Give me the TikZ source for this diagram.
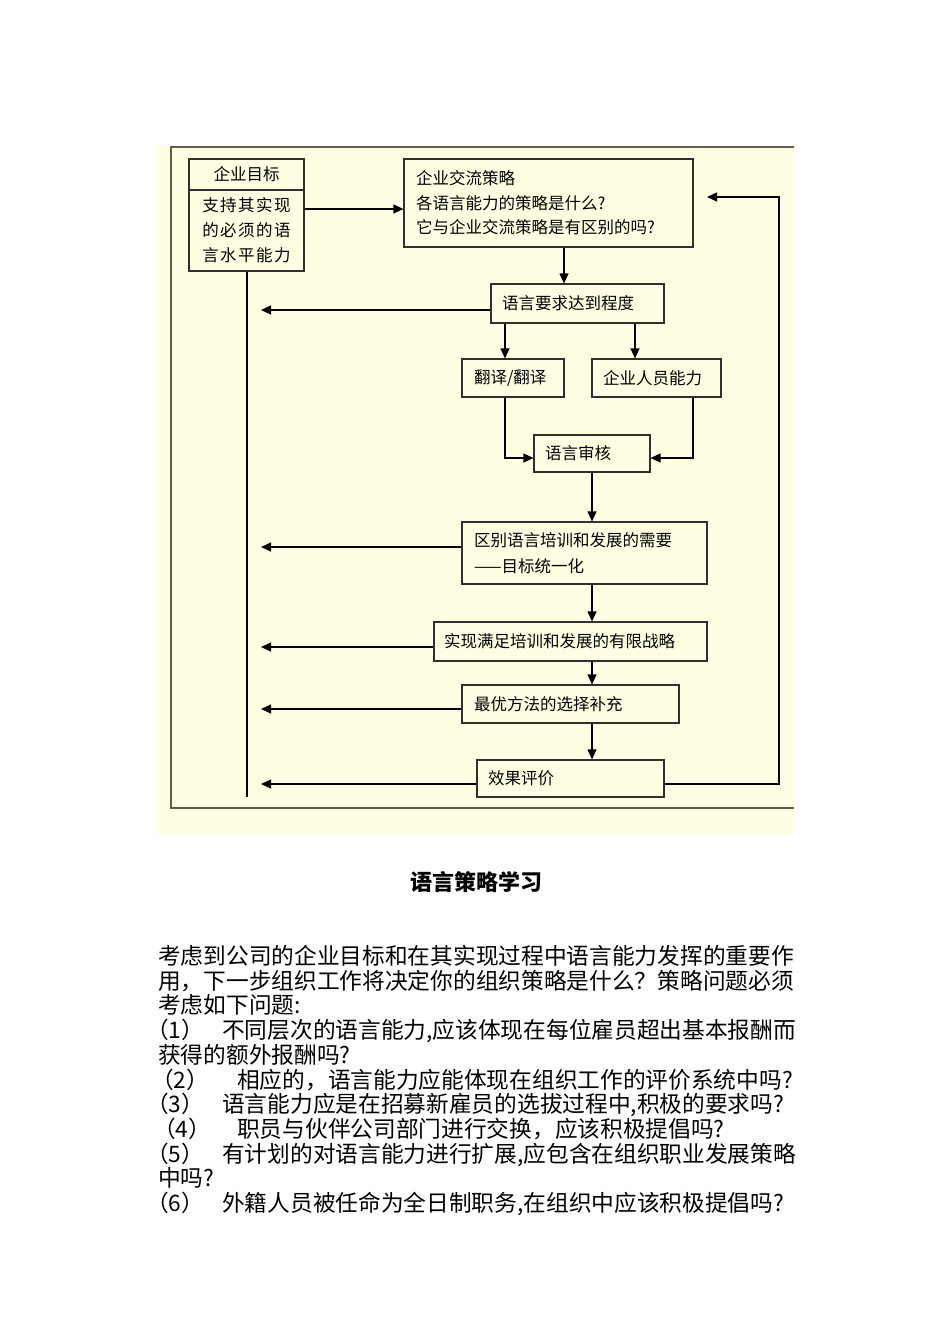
\documentclass[tikz,border=0pt]{standalone}
\usepackage{fontspec}
\setmainfont{Noto Sans CJK SC}
\usetikzlibrary{arrows.meta}
\definecolor{bgy}{HTML}{FFFFE3}
\definecolor{framec}{HTML}{5F5F4C}
\definecolor{boxc}{HTML}{303030}
\tikzset{
  box/.style={draw=boxc, line width=1.2pt, inner ysep=0pt, align=left,
    font=\fontsize{16.5}{24.5}\selectfont},
  arr/.style={line width=1.2pt, draw=black, -{Triangle[length=10pt,width=9pt]}},
  ln/.style={line width=1.3pt, draw=black},
  body/.style={anchor=base west, inner sep=0pt, font=\fontsize{22.7}{25}\selectfont},
  lab/.style={anchor=base west, inner sep=0pt, font=\fontsize{22.7}{25}\selectfont}
}
\begin{document}
\begin{tikzpicture}[x=1pt,y=-1pt]
\useasboundingbox[fill=white] (0,0) rectangle (950,1344);
% background and frame
\fill[bgy] (156,146) rectangle (794,834);
\draw[framec, line width=1.5pt] (794,147) -- (171,147) -- (171,808) -- (794,808);

% goal box
\node[box, minimum width=115pt, minimum height=31pt, align=center] (goalT) at (246.5,174.5) {企业目标};
\node[box, minimum width=115pt, minimum height=81pt, align=center,
  font=\fontsize{16.5}{25}\selectfont] (goalB) at (246.5,230.5)
  {支\hspace{1.5pt}持\hspace{1.5pt}其\hspace{1.5pt}实\hspace{1.5pt}现\\的\hspace{1.5pt}必\hspace{1.5pt}须\hspace{1.5pt}的\hspace{1.5pt}语\\言\hspace{1.5pt}水\hspace{1.5pt}平\hspace{1.5pt}能\hspace{1.5pt}力};

% strategy
\node[box, minimum width=289pt, minimum height=88pt, inner xsep=12pt, text width=265pt] (strat) at (548.5,203)
  {企业交流策略\\各语言能力的策略是什么?\\它与企业交流策略是有区别的吗?};
\node[box, minimum width=173pt, minimum height=39pt, inner xsep=11pt, text width=151pt] (req) at (577.5,303.5) {语言要求达到程度};
\node[box, minimum width=102pt, minimum height=38pt, inner xsep=12pt, text width=78pt] (trans) at (513,378) {翻译/翻译};
\node[box, minimum width=129pt, minimum height=38pt, inner xsep=11pt, text width=107pt] (staff) at (656.5,378) {企业人员能力};
\node[box, minimum width=116pt, minimum height=37pt, inner xsep=11pt, text width=94pt] (audit) at (592,453.5) {语言审核};
\node[box, minimum width=245pt, minimum height=62pt, inner xsep=12pt, text width=221pt,
  font=\fontsize{16.5}{26.5}\selectfont] (diff) at (584.5,553)
  {区别语言培训和发展的需要\\——目标统一化};
\node[box, minimum width=273pt, minimum height=39pt, inner xsep=10pt, text width=253pt] (impl) at (570.5,641.5) {实现满足培训和发展的有限战略};
\node[box, minimum width=217pt, minimum height=38pt, inner xsep=12pt, text width=193pt] (best) at (570.5,704) {最优方法的选择补充};
\node[box, minimum width=187pt, minimum height=37pt, inner xsep=11pt, text width=165pt] (eval) at (570.5,778.5) {效果评价};

% helper coordinates
\coordinate (vtop) at (247,271);
\coordinate (vbot) at (247,797);
\coordinate (xl) at (261,0);
\coordinate (xa) at (564,0);
\coordinate (xt) at (505,0);
\coordinate (xs) at (635,0);
\coordinate (xs2) at (693,0);
\coordinate (ya) at (0,458);
\coordinate (yg) at (0,209);
\coordinate (fbx) at (779,0);
\coordinate (fby) at (0,197);
\coordinate (fbend) at (707,197);

% connectors
\draw[ln] (goalB.south -| vtop) -- (vbot);
\draw[arr] (goalB.east |- yg) -- (strat.west |- yg);
\draw[arr] (strat.south -| xa) -- (req.north -| xa);
\draw[arr] (req.south -| xt) -- (trans.north -| xt);
\draw[arr] (req.south -| xs) -- (staff.north -| xs);
\draw[arr] (trans.south -| xt) |- (audit.west |- ya);
\draw[arr] (staff.south -| xs2) |- (audit.east |- ya);
\draw[arr] (audit.south) -- (diff.north -| audit.south);
\draw[arr] (diff.south -| audit.south) -- (impl.north -| audit.south);
\draw[arr] (impl.south -| audit.south) -- (best.north -| audit.south);
\draw[arr] (best.south -| audit.south) -- (eval.north -| audit.south);

\draw[arr] (req.west |- 0,310) -- (xl |- 0,310);
\draw[arr] (diff.west |- 0,547) -- (xl |- 0,547);
\draw[arr] (impl.west |- 0,647) -- (xl |- 0,647);
\draw[arr] (best.west |- 0,709) -- (xl |- 0,709);
\draw[arr] (eval.west |- 0,784) -- (xl |- 0,784);
\draw[arr] (eval.east |- 0,784) -- (fbx |- 0,784) -- (fbx |- fby) -- (fbend);

% title
\node[anchor=base, inner sep=0pt, font=\fontsize{22}{24}\selectfont\bfseries] (title) at (476,890.3) {语言策略学习};

% body text
\node[body] (p1) at (158,964.5) {考虑到公司的企业目标和在其实现过程中语言能力发挥的重要作};
\node[body] (p2) at (158,989.2) {用，下一步组织工作将决定你的组织策略是什么？策略问题必须};
\node[body] (p3) at (158,1013.9) {考虑如下问题:};
\node[lab] (l1) at (146,1038.6) {（1）};
\node[body] (q1) at (222,1038.6) {不同层次的语言能力,应该体现在每位雇员超出基本报酬而};
\node[body] (p5) at (158,1063.3) {获得的额外报酬吗?};
\node[lab] (l2) at (151,1088) {（2）};
\node[body] (q2) at (237,1088) {相应的，语言能力应能体现在组织工作的评价系统中吗?};
\node[lab] (l3) at (146,1112.7) {（3）};
\node[body] (q3) at (222,1112.7) {语言能力应是在招募新雇员的选拔过程中,积极的要求吗?};
\node[lab] (l4) at (153,1137.4) {（4）};
\node[body] (q4) at (237,1137.4) {职员与伙伴公司部门进行交换，应该积极提倡吗?};
\node[lab] (l5) at (146,1162.1) {（5）};
\node[body] (q5) at (222,1162.1) {有计划的对语言能力进行扩展,应包含在组织职业发展策略};
\node[body] (p10) at (158,1186.8) {中吗?};
\node[lab] (l6) at (146,1211.5) {（6）};
\node[body] (q6) at (222,1211.5) {外籍人员被任命为全日制职务,在组织中应该积极提倡吗?};
\end{tikzpicture}
\end{document}
